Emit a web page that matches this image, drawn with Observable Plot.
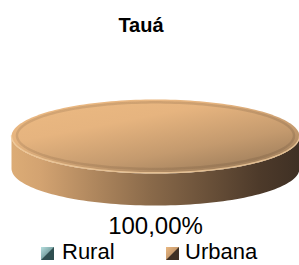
<!DOCTYPE html>
<html><head><meta charset="utf-8">
<script src="https://cdn.jsdelivr.net/npm/d3@7"></script>
<script src="https://cdn.jsdelivr.net/npm/@observablehq/plot@0.6"></script>
<style>
html,body{margin:0;padding:0;background:#fff;overflow:hidden;}
body{width:299px;height:265px;position:relative;font-family:"Liberation Sans",Arial,sans-serif;color:#000;}
#title{position:absolute;left:0;top:15px;width:282px;text-align:center;font-weight:bold;font-size:20px;line-height:20px;}
#chart{position:absolute;left:0;top:44px;}
#legend{position:absolute;left:0;top:241px;width:299px;height:22px;font-size:22px;line-height:22px;}
.sw{position:absolute;top:6px;width:13px;height:13px;}
.lab{position:absolute;top:0;white-space:nowrap;}
</style></head><body>
<div id="title"></div>
<div id="chart"></div>
<div id="legend"></div>
<script>
const title = "Tauá";
const categories = ["Rural", "Urbana"];
const values = [0, 100];
const lightColors = ["#b7e0e0", "#ebb982"];
const midColors = ["#7fa8a8", "#c99c6e"];
const darkColors = ["#2f4f50", "#3f3024"];

document.getElementById("title").textContent = title;

const RY = 37 / 144, DEPTH = 32 / 144, STEPS = 180;
const total = d3.sum(values);
const pie = d3.pie().sort(null).value(d => d.value);
const slices = pie(categories.map((c, i) => ({category: c, value: values[i], i})));
const fmt = v => d3.format(".2f")(v).replace(".", ",") + "%";

const pt = (a, drop) => ({x: Math.sin(a), y: -Math.cos(a) * RY + drop});
const arcPts = (a0, a1, drop) => {
  const n = Math.max(2, Math.ceil(STEPS * (a1 - a0) / (2 * Math.PI)));
  return d3.range(n + 1).map(k => pt(a0 + (a1 - a0) * k / n, drop));
};

const marks = [];
for (const s of slices) {
  if (s.data.value <= 0) continue;
  const i = s.data.i;
  const full = s.endAngle - s.startAngle > 2 * Math.PI - 1e-6;
  const a0 = Math.max(s.startAngle, Math.PI / 2), a1 = Math.min(s.endAngle, 3 * Math.PI / 2);
  if (a1 > a0) {
    const side = [...arcPts(a0, a1, 0), ...arcPts(a0, a1, DEPTH).reverse()];
    side.push(side[0]);
    marks.push(Plot.line(side, {x: "x", y: "y", fill: `url(#side${i})`, stroke: "none", curve: "linear"}));
  }
  let top = arcPts(s.startAngle, s.endAngle, 0);
  if (!full) top = [{x: 0, y: 0}, ...top, {x: 0, y: 0}];
  marks.push(Plot.line(top, {x: "x", y: "y", fill: `url(#top${i})`, stroke: "none", curve: "linear"}));
  const inner = arcPts(s.startAngle, s.endAngle, 0).map(p => ({x: p.x * 0.962, y: p.y * 0.9 - 0.006}));
  marks.push(Plot.line(inner, {x: "x", y: "y", stroke: `url(#bev${i})`, strokeWidth: 2.5, strokeOpacity: 0.2}));
  if (a1 > a0) {
    marks.push(Plot.line(arcPts(a0, a1, -0.005), {x: "x", y: "y", stroke: "#f1cc9c", strokeOpacity: 0.8, strokeWidth: 1.4}));
  }
}
const labelData = slices.filter(s => s.data.value > 0).map(s => {
  const mid = (s.startAngle + s.endAngle) / 2;
  const p = pt(mid, Math.cos(mid) < 0 ? DEPTH : 0);
  return {x: p.x, y: p.y, text: fmt(100 * s.data.value / total)};
});
marks.push(Plot.text(labelData, {x: "x", y: "y", text: "text", fontSize: 24, lineAnchor: "top", dy: 11, fill: "#000"}));

const svg = Plot.plot({
  width: 299, height: 197, margin: 0,
  x: {domain: [-155 / 144, 1.0], axis: null},
  y: {domain: [-92 / 144, 105 / 144], reverse: true, axis: null},
  style: {fontFamily: "Liberation Sans, Arial, sans-serif", background: "transparent", overflow: "visible"},
  marks
});
d3.select(svg).insert("defs", ":first-child").html(
  categories.map((c, i) => `
  <linearGradient id="top${i}" x1="0.15" y1="0" x2="0.9" y2="1">
    <stop offset="0" stop-color="${lightColors[i]}"/>
    <stop offset="0.3" stop-color="${i ? "#e6b47f" : "#a8d4d4"}"/>
    <stop offset="0.65" stop-color="${i ? "#c49a6e" : "#84acac"}"/>
    <stop offset="1" stop-color="${i ? "#947656" : "#5f8686"}"/>
  </linearGradient>
  <linearGradient id="bev${i}" x1="0" y1="0" x2="1" y2="0">
    <stop offset="0" stop-color="#7a5a3c"/>
    <stop offset="1" stop-color="#5a4430"/>
  </linearGradient>
  <linearGradient id="side${i}" x1="0" y1="0" x2="1" y2="0">
    <stop offset="0" stop-color="${i ? "#dcac76" : "#a8d0d0"}"/>
    <stop offset="0.1" stop-color="${i ? "#d3a371" : "#a0c8c8"}"/>
    <stop offset="0.48" stop-color="${i ? "#8a6a4a" : "#5f8585"}"/>
    <stop offset="0.86" stop-color="${i ? "#4d3a2a" : "#3b5c5c"}"/>
    <stop offset="1" stop-color="${darkColors[i]}"/>
  </linearGradient>`).join("")
);
document.getElementById("chart").appendChild(svg);

const legendX = [[41, 62], [166, 185]];
const legend = d3.select("#legend");
categories.forEach((c, i) => {
  legend.append("div").attr("class", "sw").style("left", legendX[i][0] + "px")
    .style("background", `linear-gradient(135deg, ${lightColors[i]} 0%, ${midColors[i]} 48%, ${darkColors[i]} 52%, ${darkColors[i]} 100%)`);
  legend.append("div").attr("class", "lab").style("left", legendX[i][1] + "px").text(c);
});
</script>
</body></html>
